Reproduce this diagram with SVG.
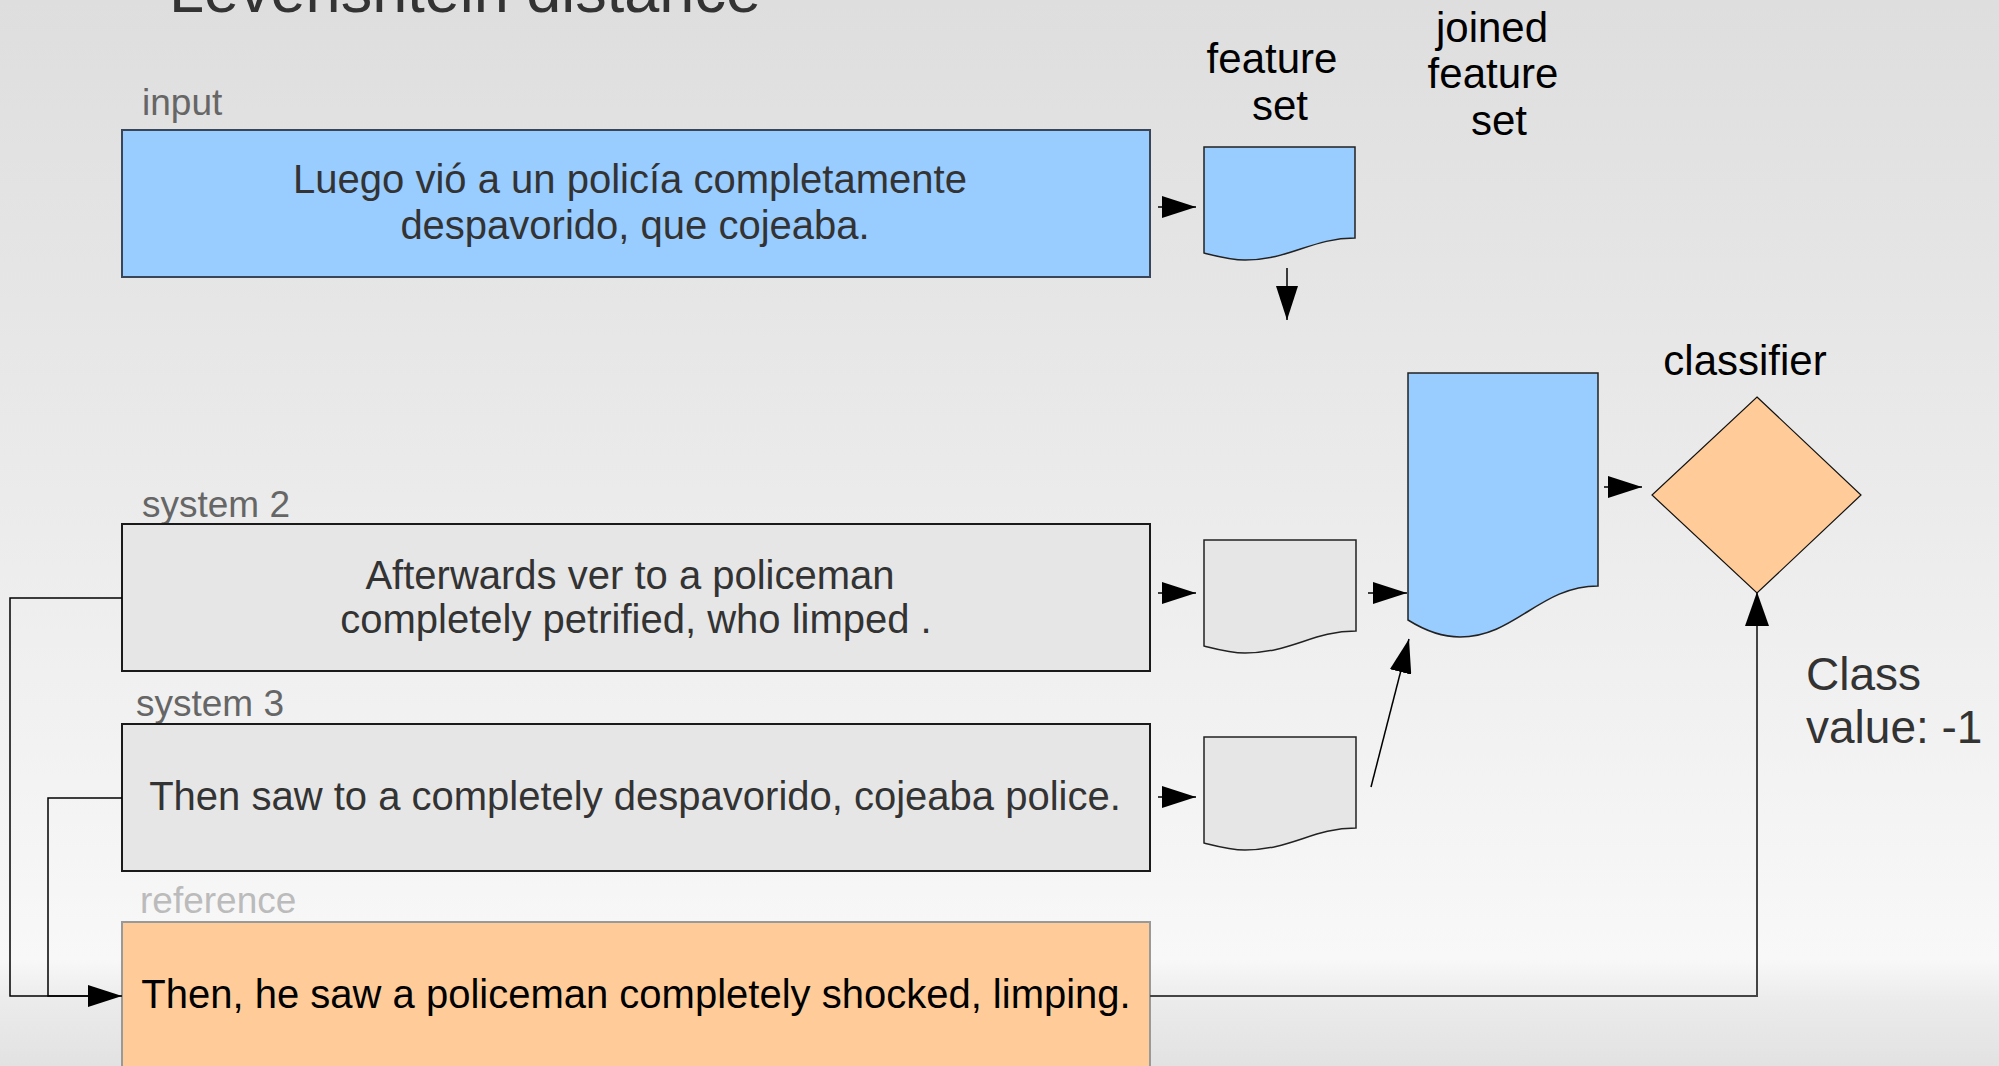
<svg xmlns="http://www.w3.org/2000/svg" width="1999" height="1066" viewBox="0 0 1999 1066">
  <defs>
    <linearGradient id="bg" x1="0" y1="0" x2="0" y2="1">
      <stop offset="0" stop-color="#dedede"/>
      <stop offset="0.5" stop-color="#ececec"/>
      <stop offset="0.9" stop-color="#f8f8f8"/>
      <stop offset="0.94" stop-color="#ebebeb"/>
      <stop offset="1" stop-color="#e2e2e2"/>
    </linearGradient>
    <marker id="arrow" markerUnits="userSpaceOnUse" markerWidth="34" markerHeight="22" refX="34" refY="11" orient="auto" viewBox="0 0 34 22">
      <path d="M0,0 L34,11 L0,22 Z" fill="#000"/>
    </marker>
    <marker id="arrowUp" markerUnits="userSpaceOnUse" markerWidth="34" markerHeight="24" refX="33" refY="12" orient="auto" viewBox="0 0 34 24">
      <path d="M0,0 L34,12 L0,24 Z" fill="#000"/>
    </marker>
  </defs>
  <style>
    text { font-family: "Liberation Sans", Arial, sans-serif; }
    .title { font-size: 63px; fill: #333; }
    .label { font-size: 37px; fill: #666; }
    .label-ref { font-size: 37px; fill: #bbb; }
    .body { font-size: 40px; fill: #333; text-anchor: middle; }
    .body-ref { font-size: 40px; fill: #000; text-anchor: middle; }
    .caption { font-size: 42px; fill: #000; text-anchor: middle; }
    .note { font-size: 46px; fill: #333; }
    .box-input { fill: #99ccff; stroke: #3a4658; stroke-width: 2; }
    .box-sys { fill: #e6e6e6; stroke: #1a1a1a; stroke-width: 2; }
    .box-ref { fill: #ffcc99; stroke: #999; stroke-width: 2; }
    .doc-blue { fill: #99ccff; stroke: #222; stroke-width: 1.5; }
    .doc-gray { fill: #e6e6e6; stroke: #222; stroke-width: 1.5; }
    .diamond { fill: #ffcc99; stroke: #111; stroke-width: 1.2; }
    .conn { fill: none; stroke: #000; stroke-width: 1.5; }
    .conn-gray { fill: none; stroke: #444; stroke-width: 2; }
  </style>

  <rect x="0" y="0" width="1999" height="1066" fill="url(#bg)"/>

  <text class="title" x="169" y="12">Levenshtein distance</text>

  <!-- input sentence -->
  <g id="input">
    <text class="label" x="142" y="115">input</text>
    <rect class="box-input" x="122" y="130" width="1028" height="147"/>
    <text class="body" x="630" y="193">Luego vió a un policía completamente</text>
    <text class="body" x="635" y="239">despavorido, que cojeaba.</text>
  </g>

  <!-- system 2 output -->
  <g id="system2">
    <text class="label" x="142" y="517">system 2</text>
    <rect class="box-sys" x="122" y="524" width="1028" height="147"/>
    <text class="body" x="630" y="589">Afterwards ver to a policeman</text>
    <text class="body" x="636" y="633">completely petrified, who limped .</text>
  </g>

  <!-- system 3 output -->
  <g id="system3">
    <text class="label" x="136" y="716">system 3</text>
    <rect class="box-sys" x="122" y="724" width="1028" height="147"/>
    <text class="body" x="635" y="810">Then saw to a completely despavorido, cojeaba police.</text>
  </g>

  <!-- reference translation -->
  <g id="reference">
    <text class="label-ref" x="140" y="913">reference</text>
    <rect class="box-ref" x="122" y="922" width="1028" height="160"/>
    <text class="body-ref" x="636" y="1008">Then, he saw a policeman completely shocked, limping.</text>
  </g>

  <!-- feature set documents -->
  <g id="feature-set-input">
    <text class="caption" x="1272" y="73">feature</text>
    <text class="caption" x="1280" y="120">set</text>
    <path class="doc-blue" d="M1204,147 H1355 V238 C1312,238 1290,260 1245,260 C1230,260 1216,256 1204,253 Z"/>
  </g>

  <g id="feature-set-system2">
    <path class="doc-gray" d="M1204,540 H1356 V631 C1313,631 1291,653 1245,653 C1230,653 1216,649 1204,646 Z"/>
  </g>

  <g id="feature-set-system3">
    <path class="doc-gray" d="M1204,737 H1356 V828 C1313,828 1291,850 1245,850 C1230,850 1216,846 1204,843 Z"/>
  </g>

  <!-- joined feature set -->
  <g id="joined-feature-set">
    <text class="caption" x="1492" y="42">joined</text>
    <text class="caption" x="1493" y="88">feature</text>
    <text class="caption" x="1499" y="135">set</text>
    <path class="doc-blue" d="M1408,373 H1598 V586 C1540,586 1515,637 1460,637 C1440,637 1424,630 1408,620 Z"/>
  </g>

  <!-- classifier -->
  <g id="classifier">
    <text class="caption" x="1745" y="375">classifier</text>
    <polygon class="diamond" points="1757,397 1861,495 1757,593 1652,495"/>
  </g>

  <g id="class-value">
    <text class="note" x="1806" y="690">Class</text>
    <text class="note" x="1806" y="743">value: -1</text>
  </g>

  <!-- connectors -->
  <g id="connectors">
    <line class="conn" x1="1158" y1="207" x2="1196" y2="207" marker-end="url(#arrow)"/>
    <line class="conn" x1="1287" y1="268" x2="1287" y2="320" marker-end="url(#arrow)"/>
    <line class="conn" x1="1158" y1="593" x2="1196" y2="593" marker-end="url(#arrow)"/>
    <line class="conn" x1="1368" y1="593" x2="1407" y2="593" marker-end="url(#arrow)"/>
    <line class="conn" x1="1158" y1="797" x2="1196" y2="797" marker-end="url(#arrow)"/>
    <line class="conn" x1="1371" y1="787" x2="1409" y2="639" marker-end="url(#arrow)"/>
    <line class="conn" x1="1604" y1="487" x2="1642" y2="487" marker-end="url(#arrow)"/>
    <polyline class="conn" points="122,598 10,598 10,996 122,996" marker-end="url(#arrow)"/>
    <polyline class="conn" points="122,798 48,798 48,996 90,996"/>
    <polyline class="conn-gray" points="1150,996 1757,996 1757,593" marker-end="url(#arrowUp)"/>
  </g>
</svg>
